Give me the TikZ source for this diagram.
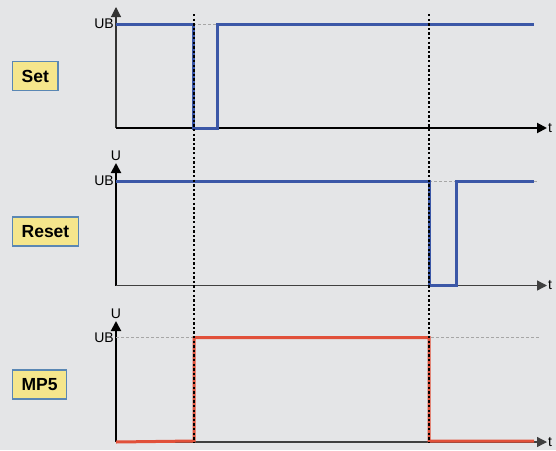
\documentclass[tikz,border=0pt]{standalone}
\usepackage{fontspec}
\setmainfont{Liberation Sans}
\usepackage{tikz}
\usetikzlibrary{positioning, arrows.meta}
\definecolor{bgpanel}{RGB}{228, 229, 231}
\definecolor{sigblue}{RGB}{59, 87, 167}
\definecolor{sigred}{RGB}{225, 80, 58}
\definecolor{tagfill}{RGB}{245, 230, 140}
\definecolor{tagline}{RGB}{90, 135, 180}

\begin{document}
\begin{tikzpicture}[x=1pt, y=-1pt, font=\fontsize{14}{16}\selectfont,
  tag/.style={draw=tagline, fill=tagfill, line width=1.3pt, anchor=west,
    font=\fontsize{17.5}{19}\selectfont\bfseries, minimum height=29pt, inner xsep=9pt},
  axis/.style={line width=2pt, -{Triangle[length=10pt, width=10pt]}},
  signal/.style={line width=3pt},
  level/.style={gray!70, line width=0.7pt, dash pattern=on 3pt off 2pt},
  marker/.style={line width=2pt, dash pattern=on 2.4pt off 2.2pt}]

  % Background
  \fill[bgpanel] (0,0) rectangle (556,450);
  \useasboundingbox (0,0) rectangle (556,450);

  % Set panel
  \coordinate (o1) at (116,128);
  \coordinate (y1) at (116,7);
  \coordinate (x1) at (547,128);
  \draw[axis, line width=1.1pt, black!80] (o1) -- (y1);
  \draw[axis] (o1) -- (x1);
  \node[left, inner sep=2pt] (ub1) at (116,24) {UB};
  \node[right, inner sep=1pt] (t1) at (x1) {t};
  \node[tag] (set) at (12,76) {Set};
  \draw[level] (193,24) -- (217,24);
  \draw[sigblue, signal] (116,24) -| (193,128) -| (217,24) -- (534,24);

  % Reset panel
  \coordinate (o2) at (116,285.5);
  \coordinate (y2) at (116,163);
  \coordinate (x2) at (547,285.5);
  \draw[axis] (o2) -- (y2);
  \draw[axis, line width=1.3pt, black!75] (o2) -- (x2);
  \node[above, inner sep=1pt, yshift=1pt] (u2) at (y2) {U};
  \node[left, inner sep=2pt] (ub2) at (116,181) {UB};
  \node[right, inner sep=1pt] (t2) at (x2) {t};
  \node[tag] (reset) at (12,231.5) {Reset};
  \draw[level] (429,181) -- (538,181);
  \draw[sigblue, signal] (116,181) -| (429,285) -| (456,181) -- (534,181);

  % MP5 panel
  \coordinate (o3) at (116,442);
  \coordinate (y3) at (116,321);
  \coordinate (x3) at (547,442);
  \draw[axis] (o3) -- (y3);
  \draw[axis, line width=1.3pt, black!75] (o3) -- (x3);
  \node[above, inner sep=1pt, yshift=1pt] (u3) at (y3) {U};
  \node[left, inner sep=2pt] (ub3) at (116,337.5) {UB};
  \node[right, inner sep=1pt] (t3) at (x3) {t};
  \node[tag] (mp5) at (12,384.5) {MP5};
  \draw[level] (116,337.5) -- (540,337.5);
  \draw[sigred, signal] (116,442) -- (194,441) |- (429,337.5) -- (429,441) -- (534,441);

  % Switching instants
  \coordinate (m1top) at (194,14);
  \coordinate (m1bot) at (194,442);
  \coordinate (m2top) at (429,14);
  \coordinate (m2bot) at (429,442);
  \draw[marker] (m1top) -- (m1bot);
  \draw[marker] (m2top) -- (m2bot);
\end{tikzpicture}
\end{document}
